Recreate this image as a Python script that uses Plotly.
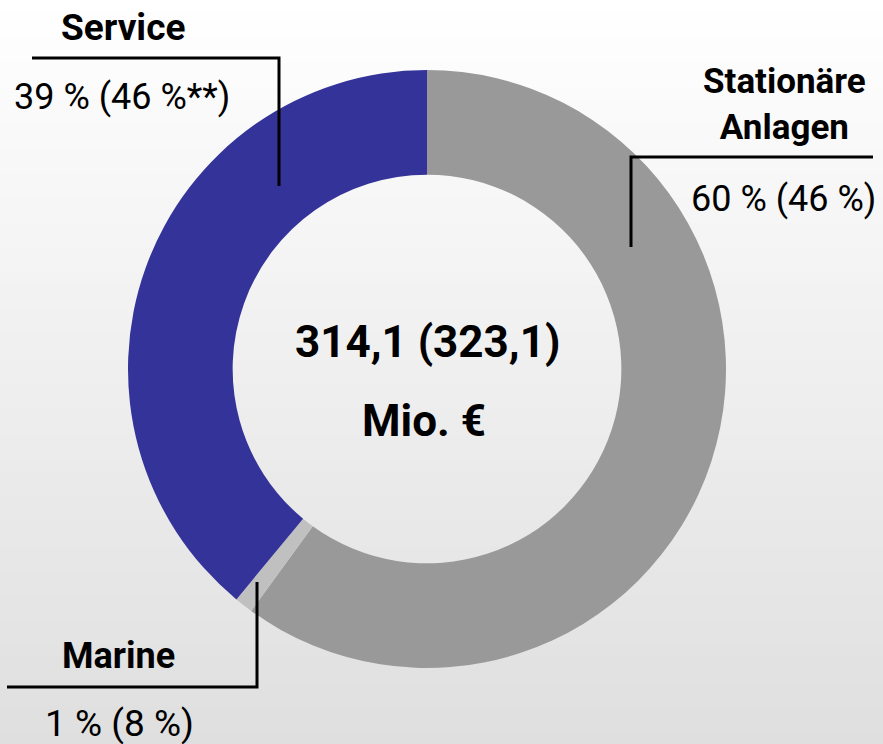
import plotly.graph_objects as go

W, H = 883, 744

segments = ['Stationäre Anlagen', 'Marine', 'Service']
shares = [60, 1, 39]
prev_shares = [46, 8, 46]
colors = ['#999999', '#c0c0c0', '#333399']

total = '314,1'
total_prev = '323,1'

font_narrow = 'Liberation Sans Narrow, Arial Narrow, Roboto, sans-serif'


def px(x):
    return x / W


def py(y):
    return 1 - y / H


# donut geometry (pixels)
cx, cy, r = 427, 369, 299

fig = go.Figure()
fig.add_trace(go.Pie(
    labels=segments,
    values=shares,
    sort=False,
    direction='clockwise',
    rotation=0,
    hole=0.65,
    marker=dict(colors=colors, line=dict(width=0)),
    textinfo='none',
    hoverinfo='label+percent',
    showlegend=False,
    domain=dict(x=[px(cx - r), px(cx + r)], y=[py(cy + r), py(cy - r)]),
))

# background gradient, white at top to light grey at bottom
shapes = []
bands = 60
for i in range(bands):
    v = round(255 - (255 - 223) * (i + 0.5) / bands)
    shapes.append(dict(type='rect', xref='paper', yref='paper', layer='below',
                       x0=0, x1=1, y0=1 - (i + 1) / bands - 0.001, y1=1 - i / bands,
                       fillcolor=f'rgb({v},{v},{v})', line=dict(width=0)))

# leader lines
leaders = [
    [(32, 58), (279, 58), (279, 186)],
    [(873, 157), (631, 157), (631, 247)],
    [(257, 582), (257, 687), (7, 687)],
]
for pts in leaders:
    path = 'M ' + ' L '.join(f'{px(x)},{py(y)}' for x, y in pts)
    shapes.append(dict(type='path', xref='paper', yref='paper', path=path,
                       line=dict(color='black', width=3)))

annotations = []


def label(text, x, y, size, bold=False):
    if bold:
        text = f'<b>{text}</b>'
    annotations.append(dict(text=text, x=px(x), y=py(y), xref='paper', yref='paper',
                            showarrow=False, xanchor='center', yanchor='middle',
                            font=dict(family=font_narrow, size=size, color='black')))


label('Service', 123, 28, 37, bold=True)
label(f'{shares[2]} % ({prev_shares[2]} %**)', 122, 97, 36)
label('<b>Stationäre</b><br><b>Anlagen</b>', 784, 105, 35)
label(f'{shares[0]} % ({prev_shares[0]} %)', 783, 199, 36)
label('Marine', 118, 656, 36, bold=True)
label(f'{shares[1]} % ({prev_shares[1]} %)', 119, 723, 37)
label(f'{total} ({total_prev})', 427, 342, 44, bold=True)
label('Mio. €', 424, 421, 44, bold=True)

fig.update_layout(
    width=W, height=H,
    margin=dict(l=0, r=0, t=0, b=0),
    paper_bgcolor='white',
    shapes=shapes,
    annotations=annotations,
)

fig.write_html('out.html', config={'displayModeBar': False},
               post_script="document.body.style.margin='0';document.body.style.overflow='hidden';")
